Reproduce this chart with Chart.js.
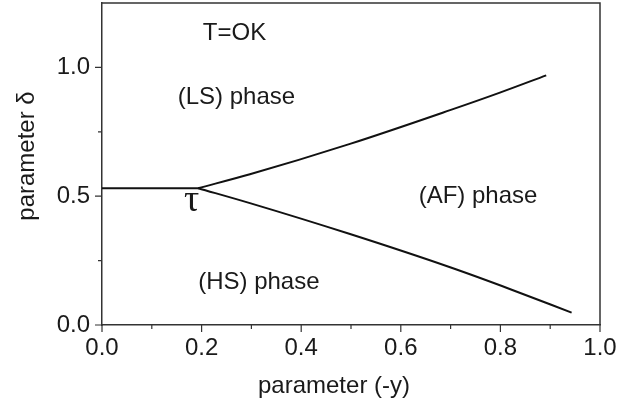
<!DOCTYPE html>
<html>
<head>
<meta charset="utf-8">
<script src="https://cdn.jsdelivr.net/npm/chart.js@4/dist/chart.umd.min.js"></script>
<style>
  html, body { margin: 0; padding: 0; background: #fff; }
  #wrap { width: 643px; height: 406px; }
</style>
</head>
<body>
<div id="wrap"><canvas id="phase"></canvas></div>
<script>
// Phase boundaries
const flatX = [0, 0.193];
const flatY = [0.531, 0.531];
const upperX = [0.193, 0.297, 0.498, 0.699, 0.799, 0.892];
const upperY = [0.531, 0.585, 0.703, 0.834, 0.902, 0.969];
const lowerX = [0.193, 0.297, 0.498, 0.699, 0.820, 0.943];
const lowerY = [0.531, 0.473, 0.353, 0.224, 0.139, 0.048];

// Labels placed in data coordinates
const labelText = ['T=OK', '(LS) phase', '(AF) phase', '(HS) phase'];
const labelX = [0.266, 0.270, 0.755, 0.315];
const labelY = [1.134, 0.884, 0.50, 0.167];

const xTicks = [0, 0.2, 0.4, 0.6, 0.8, 1.0];
const yTicks = [0, 0.5, 1.0];

const FONT = '"Liberation Sans", Arial, sans-serif';

function toPoints(xs, ys) {
    return xs.map((x, i) => ({ x: x, y: ys[i] }));
}

function lineSet(xs, ys) {
    return {
        data: toPoints(xs, ys),
        showLine: true,
        borderColor: '#111',
        borderWidth: 2,
        pointRadius: 0,
        cubicInterpolationMode: 'monotone',
        fill: false
    };
}

const isMajor = (list, v) => list.some(t => Math.abs(t - v) < 1e-6);

// Frame, tick marks, axis titles and text labels
const decor = {
    id: 'decor',
    afterDraw(chart) {
        const ctx = chart.ctx;
        const a = chart.chartArea;
        const xs = chart.scales.x;
        const ys = chart.scales.y;
        ctx.save();
        ctx.strokeStyle = '#333';
        ctx.lineWidth = 1.5;
        ctx.beginPath();
        ctx.moveTo(a.left, a.top);
        ctx.lineTo(a.right, a.top);
        ctx.lineTo(a.right, a.bottom);
        ctx.stroke();

        ctx.lineWidth = 1.2;
        ctx.beginPath();
        xs.ticks.forEach(t => {
            const px = xs.getPixelForValue(t.value);
            const len = isMajor(xTicks, t.value) ? 7 : 4;
            ctx.moveTo(px, a.bottom);
            ctx.lineTo(px, a.bottom + len);
        });
        ys.ticks.forEach(t => {
            if (t.value > 1.1) return;
            const py = ys.getPixelForValue(t.value);
            const len = isMajor(yTicks, t.value) ? 7 : 4;
            ctx.moveTo(a.left, py);
            ctx.lineTo(a.left - len, py);
        });
        ctx.stroke();

        ctx.fillStyle = '#1a1a1a';
        ctx.font = '24px ' + FONT;
        ctx.textAlign = 'center';
        ctx.textBaseline = 'middle';
        ctx.fillText('parameter (-y)', 334, 386);

        ctx.save();
        ctx.translate(27, 156);
        ctx.rotate(-Math.PI / 2);
        ctx.fillText('parameter \u03b4', 0, 0);
        ctx.restore();

        labelText.forEach((txt, i) => {
            ctx.fillText(txt, xs.getPixelForValue(labelX[i]), ys.getPixelForValue(labelY[i]));
        });

        ctx.font = '38px "Liberation Serif", "Times New Roman", serif';
        ctx.fillText('\u03c4', xs.getPixelForValue(0.18), ys.getPixelForValue(0.48));
        ctx.restore();
    }
};

new Chart(document.getElementById('phase'), {
    type: 'scatter',
    data: {
        datasets: [
            lineSet(flatX, flatY),
            lineSet(upperX, upperY),
            lineSet(lowerX, lowerY)
        ]
    },
    options: {
        responsive: true,
        maintainAspectRatio: false,
        animation: false,
        layout: { padding: { top: 3, right: 43, left: 0, bottom: 0 } },
        plugins: {
            legend: { display: false },
            tooltip: { enabled: false }
        },
        scales: {
            x: {
                type: 'linear',
                min: 0,
                max: 1,
                afterFit: s => { s.height = 81; s.paddingLeft = 0; s.paddingRight = 0; },
                border: { display: true, color: '#333', width: 1.5 },
                grid: { display: true, drawOnChartArea: false, drawTicks: false },
                ticks: {
                    stepSize: 0.1,
                    autoSkip: false,
                    maxRotation: 0,
                    padding: 9,
                    color: '#1a1a1a',
                    font: { family: FONT, size: 24 },
                    callback: v => isMajor(xTicks, v) ? v.toFixed(1) : ''
                }
            },
            y: {
                type: 'linear',
                min: 0,
                max: 1.25,
                afterFit: s => { s.width = 102; s.paddingTop = 0; s.paddingBottom = 0; },
                border: { display: true, color: '#333', width: 1.5 },
                grid: { display: true, drawOnChartArea: false, drawTicks: false },
                ticks: {
                    stepSize: 0.25,
                    autoSkip: false,
                    padding: 12,
                    color: '#1a1a1a',
                    font: { family: FONT, size: 24 },
                    callback: v => isMajor(yTicks, v) ? v.toFixed(1) : ''
                }
            }
        }
    },
    plugins: [decor]
});
</script>
</body>
</html>
